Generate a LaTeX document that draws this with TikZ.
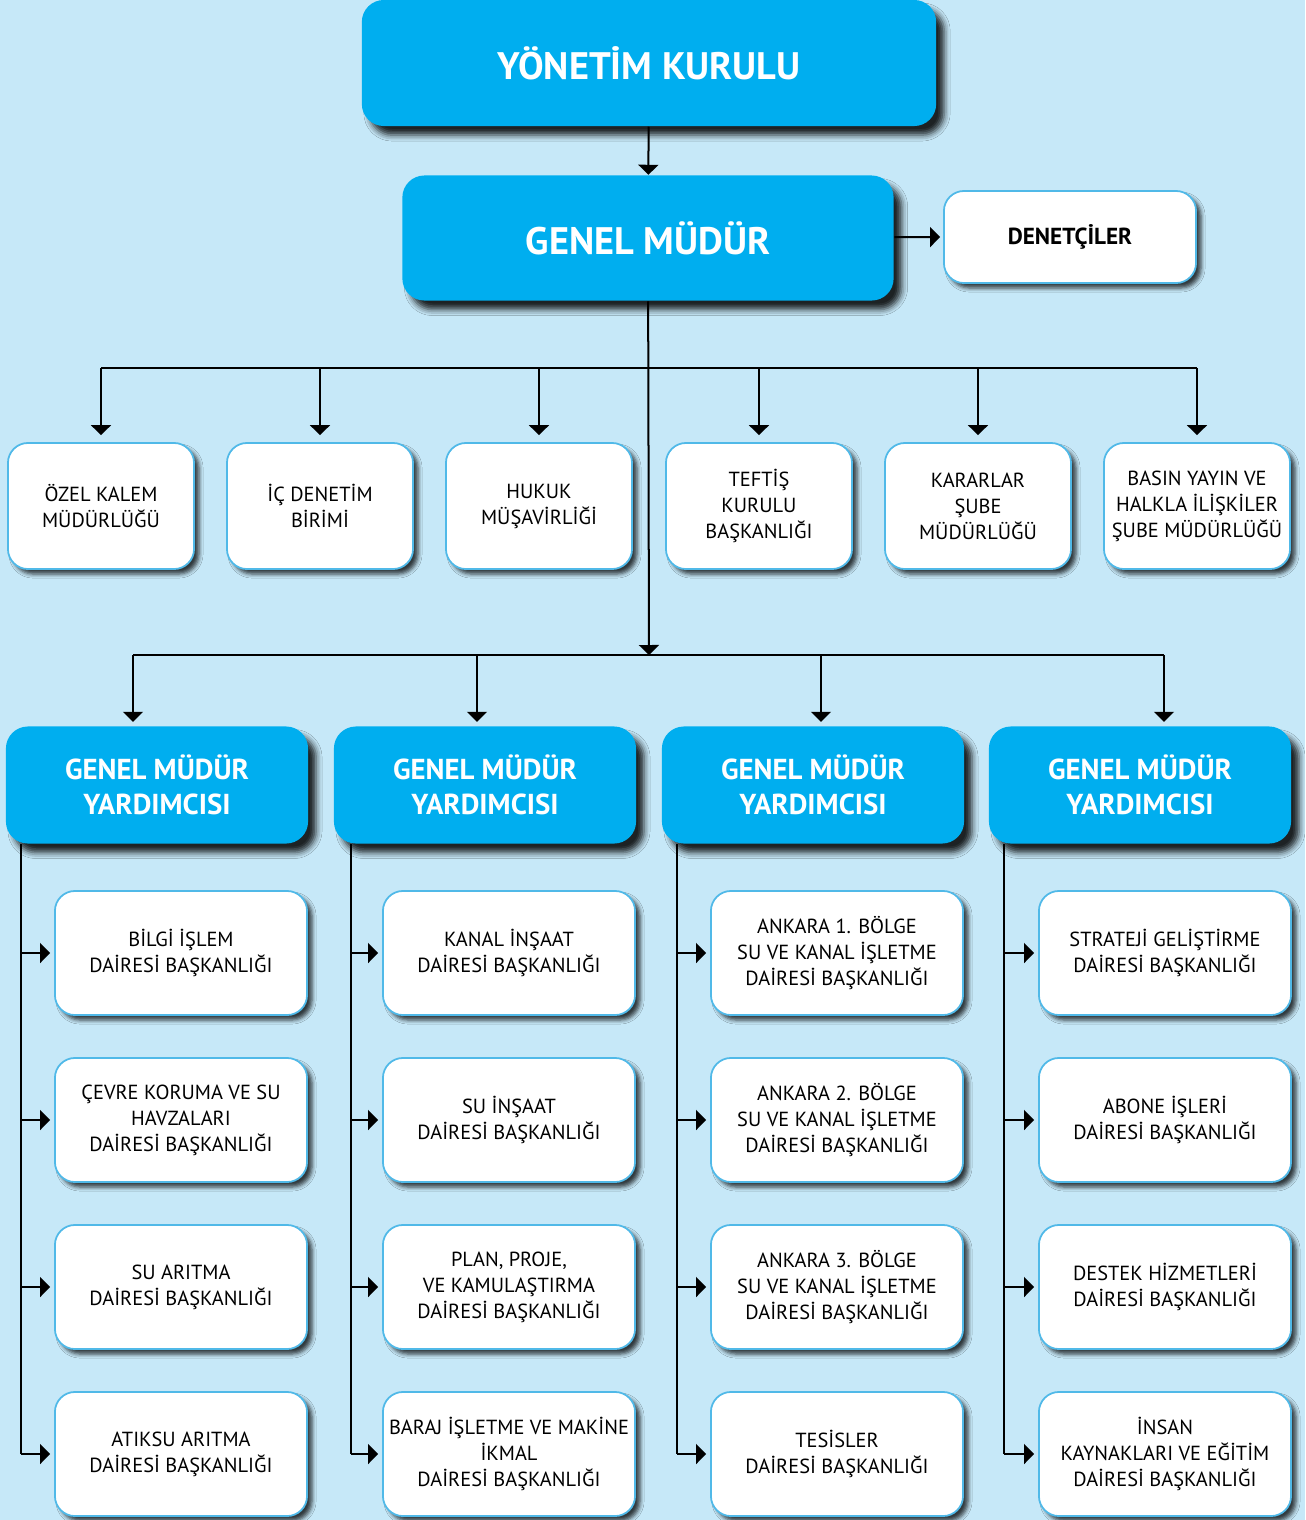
\documentclass[tikz,border=0pt]{standalone}
\usepackage{fontspec}
\setmainfont{PT Sans}
\usetikzlibrary{arrows.meta, shadows.blur}
\definecolor{bgblue}{RGB}{198,232,248}
\definecolor{boxblue}{RGB}{0,174,239}
\definecolor{edgeblue}{RGB}{80,185,232}
\tikzstyle{bluebox} = [rectangle, rounded corners=0.22cm, fill=boxblue, text=white, align=center, inner sep=0pt, blur shadow={shadow xshift=0.08cm, shadow yshift=-0.09cm, shadow blur radius=0.06cm, shadow opacity=85}]
\tikzstyle{topbox} = [bluebox, font=\fontsize{10.9}{13}\selectfont\bfseries]
\tikzstyle{deputy} = [bluebox, minimum width=3.02cm, minimum height=1.17cm, font=\fontsize{8.2}{9.8}\selectfont\bfseries]
\tikzstyle{unit} = [rectangle, rounded corners=0.2cm, fill=white, draw=edgeblue, line width=0.5pt, align=center, inner sep=0pt, font=\fontsize{5.8}{7.4}\selectfont, blur shadow={shadow xshift=0.05cm, shadow yshift=-0.05cm, shadow blur radius=0.04cm, shadow opacity=75}]
\tikzstyle{office} = [unit, minimum width=1.86cm, minimum height=1.26cm]
\tikzstyle{dept} = [unit, minimum width=2.52cm, minimum height=1.24cm]
\tikzstyle{arrow} = [line width=0.02cm, -{Triangle[width=0.2cm, length=0.1cm]}]
\tikzstyle{line} = [line width=0.02cm]

\begin{document}
\begin{tikzpicture}[x=0.01cm, y=-0.01cm]
\fill[bgblue] (0,0) rectangle (1305,1520);
\useasboundingbox (0,0) rectangle (1305,1520);

\node (yk) [topbox, minimum width=5.74cm, minimum height=1.26cm] at (649,63) {YÖNETİM KURULU};
\node (gm) [topbox, minimum width=4.91cm, minimum height=1.25cm] at (648,238) {GENEL MÜDÜR};
\node (den) [unit, minimum width=2.52cm, minimum height=0.92cm, font=\fontsize{6.6}{8}\selectfont\bfseries] at (1070,237) {DENETÇİLER};
\draw [arrow] (yk) -- (gm);
\draw [arrow] (gm) -- ([xshift=-0.03cm]den.west);

% first row
\node (ozel) [office] at (101,506) {ÖZEL KALEM\\MÜDÜRLÜĞÜ};
\node (icden) [office] at (320,506) {İÇ DENETİM\\BİRİMİ};
\node (hukuk) [office] at (539,506) {HUKUK\\MÜŞAVİRLİĞİ};
\node (teftis) [office] at (759,506) {TEFTİŞ\\KURULU\\BAŞKANLIĞI};
\node (karar) [office] at (978,506) {KARARLAR\\ŞUBE\\MÜDÜRLÜĞÜ};
\node (basin) [office] at (1197,506) {BASIN YAYIN VE\\HALKLA İLİŞKİLER\\ŞUBE MÜDÜRLÜĞÜ};

\coordinate (busone) at (649,368);
\coordinate (bustwo) at (649,655);
\draw [line] (busone -| ozel) -- (busone -| basin);
\draw [arrow] (gm) -- (bustwo);
\draw [arrow, shorten >=0.07cm] (busone -| ozel) -- (ozel);
\draw [arrow, shorten >=0.07cm] (busone -| icden) -- (icden);
\draw [arrow, shorten >=0.07cm] (busone -| hukuk) -- (hukuk);
\draw [arrow, shorten >=0.07cm] (busone -| teftis) -- (teftis);
\draw [arrow, shorten >=0.07cm] (busone -| karar) -- (karar);
\draw [arrow, shorten >=0.07cm] (busone -| basin) -- (basin);

% deputies
\node (gmy1) [deputy] at (157,785) {GENEL MÜDÜR\\YARDIMCISI};
\node (gmy2) [deputy] at (485,785) {GENEL MÜDÜR\\YARDIMCISI};
\node (gmy3) [deputy] at (813,785) {GENEL MÜDÜR\\YARDIMCISI};
\node (gmy4) [deputy] at (1140,785) {GENEL MÜDÜR\\YARDIMCISI};

\coordinate (drop1) at (133,655);
\coordinate (drop2) at (477,655);
\coordinate (drop3) at (821,655);
\coordinate (drop4) at (1164,655);
\draw [line] (drop1) -- (drop4);
\draw [arrow, shorten >=0.04cm] (drop1) -- (drop1 |- gmy1.north);
\draw [arrow, shorten >=0.04cm] (drop2) -- (drop2 |- gmy2.north);
\draw [arrow, shorten >=0.04cm] (drop3) -- (drop3 |- gmy3.north);
\draw [arrow, shorten >=0.04cm] (drop4) -- (drop4 |- gmy4.north);

% departments
\node (d11) [dept] at (181,953) {BİLGİ İŞLEM\\DAİRESİ BAŞKANLIĞI};
\node (d12) [dept] at (181,1120) {ÇEVRE KORUMA VE SU\\HAVZALARI\\DAİRESİ BAŞKANLIĞI};
\node (d13) [dept] at (181,1287) {SU ARITMA\\DAİRESİ BAŞKANLIĞI};
\node (d14) [dept] at (181,1454) {ATIKSU ARITMA\\DAİRESİ BAŞKANLIĞI};
\node (d21) [dept] at (509,953) {KANAL İNŞAAT\\DAİRESİ BAŞKANLIĞI};
\node (d22) [dept] at (509,1120) {SU İNŞAAT\\DAİRESİ BAŞKANLIĞI};
\node (d23) [dept] at (509,1287) {PLAN, PROJE,\\VE KAMULAŞTIRMA\\DAİRESİ BAŞKANLIĞI};
\node (d24) [dept] at (509,1454) {BARAJ İŞLETME VE MAKİNE\\İKMAL\\DAİRESİ BAŞKANLIĞI};
\node (d31) [dept] at (837,953) {ANKARA 1. BÖLGE\\SU VE KANAL İŞLETME\\DAİRESİ BAŞKANLIĞI};
\node (d32) [dept] at (837,1120) {ANKARA 2. BÖLGE\\SU VE KANAL İŞLETME\\DAİRESİ BAŞKANLIĞI};
\node (d33) [dept] at (837,1287) {ANKARA 3. BÖLGE\\SU VE KANAL İŞLETME\\DAİRESİ BAŞKANLIĞI};
\node (d34) [dept] at (837,1454) {TESİSLER\\DAİRESİ BAŞKANLIĞI};
\node (d41) [dept] at (1165,953) {STRATEJİ GELİŞTİRME\\DAİRESİ BAŞKANLIĞI};
\node (d42) [dept] at (1165,1120) {ABONE İŞLERİ\\DAİRESİ BAŞKANLIĞI};
\node (d43) [dept] at (1165,1287) {DESTEK HİZMETLERİ\\DAİRESİ BAŞKANLIĞI};
\node (d44) [dept] at (1165,1454) {İNSAN\\KAYNAKLARI VE EĞİTİM\\DAİRESİ BAŞKANLIĞI};

\coordinate (spine1) at ([xshift=0.16cm]gmy1.south west);
\coordinate (spine2) at ([xshift=0.18cm]gmy2.south west);
\coordinate (spine3) at ([xshift=0.16cm]gmy3.south west);
\coordinate (spine4) at ([xshift=0.16cm]gmy4.south west);
\draw [line] (spine1) -- (spine1 |- d14.west);
\draw [line] (spine2) -- (spine2 |- d24.west);
\draw [line] (spine3) -- (spine3 |- d34.west);
\draw [line] (spine4) -- (spine4 |- d44.west);
\draw [arrow, shorten >=0.04cm] (spine1 |- d11.west) -- (d11.west);
\draw [arrow, shorten >=0.04cm] (spine1 |- d12.west) -- (d12.west);
\draw [arrow, shorten >=0.04cm] (spine1 |- d13.west) -- (d13.west);
\draw [arrow, shorten >=0.04cm] (spine1 |- d14.west) -- (d14.west);
\draw [arrow, shorten >=0.04cm] (spine2 |- d21.west) -- (d21.west);
\draw [arrow, shorten >=0.04cm] (spine2 |- d22.west) -- (d22.west);
\draw [arrow, shorten >=0.04cm] (spine2 |- d23.west) -- (d23.west);
\draw [arrow, shorten >=0.04cm] (spine2 |- d24.west) -- (d24.west);
\draw [arrow, shorten >=0.04cm] (spine3 |- d31.west) -- (d31.west);
\draw [arrow, shorten >=0.04cm] (spine3 |- d32.west) -- (d32.west);
\draw [arrow, shorten >=0.04cm] (spine3 |- d33.west) -- (d33.west);
\draw [arrow, shorten >=0.04cm] (spine3 |- d34.west) -- (d34.west);
\draw [arrow, shorten >=0.04cm] (spine4 |- d41.west) -- (d41.west);
\draw [arrow, shorten >=0.04cm] (spine4 |- d42.west) -- (d42.west);
\draw [arrow, shorten >=0.04cm] (spine4 |- d43.west) -- (d43.west);
\draw [arrow, shorten >=0.04cm] (spine4 |- d44.west) -- (d44.west);
\end{tikzpicture}
\end{document}
